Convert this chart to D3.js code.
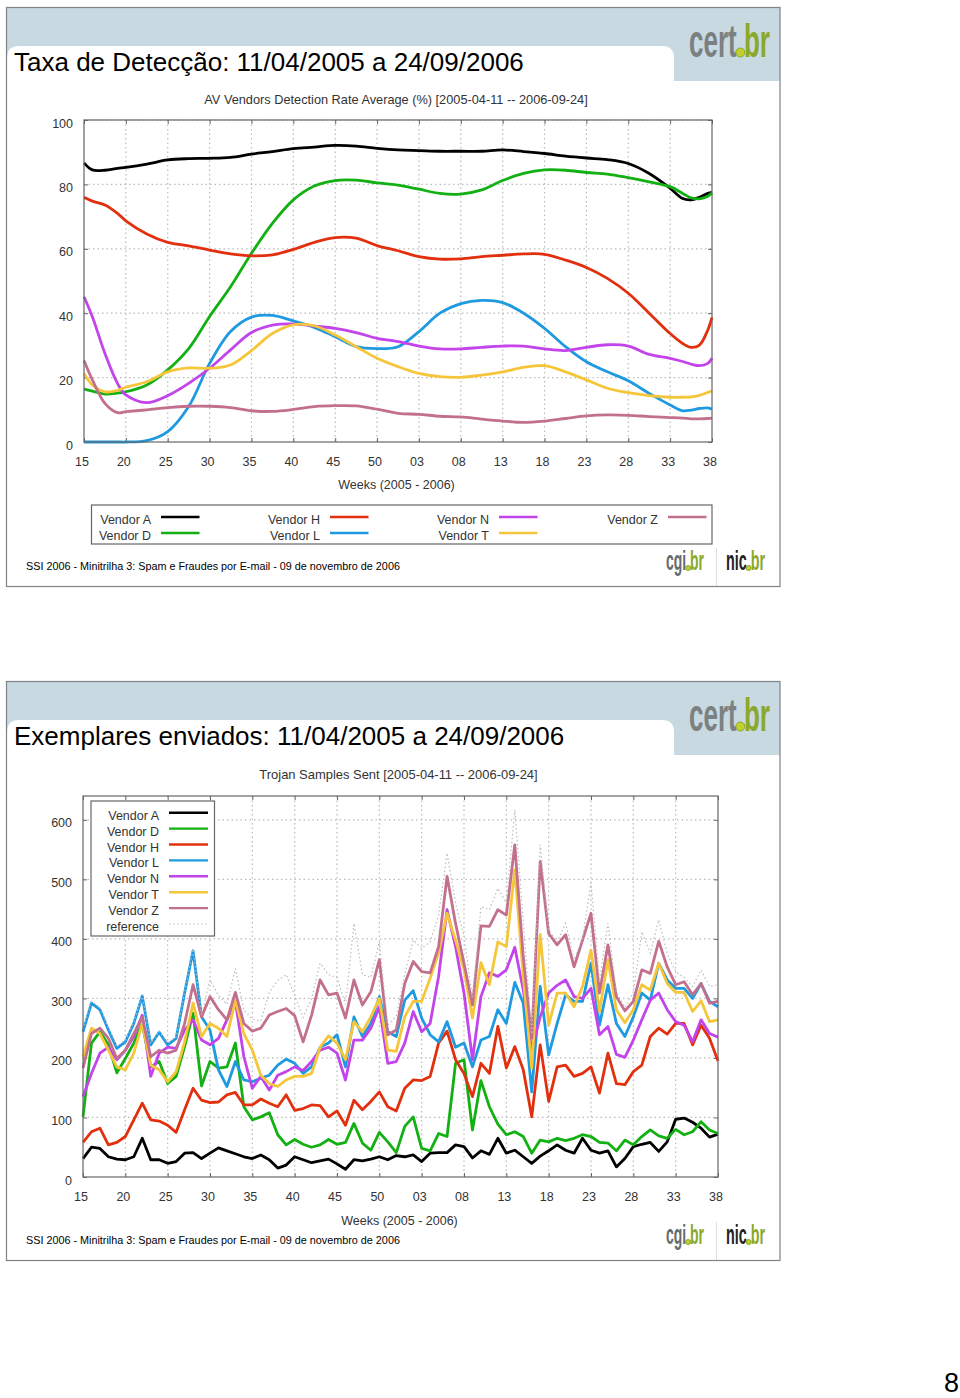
<!DOCTYPE html>
<html>
<head>
<meta charset="utf-8">
<script src="https://cdn.jsdelivr.net/npm/d3@7"></script>
<style>
  html, body { margin: 0; padding: 0; background: #fff; }
  svg { display: block; font-family: "Liberation Sans", Arial, sans-serif; }
</style>
</head>
<body>
<script>
const vendorNames = ['Vendor A', 'Vendor D', 'Vendor H', 'Vendor L', 'Vendor N', 'Vendor T', 'Vendor Z'];
const vendorColors = ['#000000', '#12b012', '#e2300f', '#1f9ae0', '#c244ea', '#f6c63a', '#c2708e'];
const weekLabels = ['15', '20', '25', '30', '35', '40', '45', '50', '03', '08', '13', '18', '23', '28', '33', '38'];

// Detection rate (%), read every couple of weeks, the curves are smooth
const rateWeeks = [0, 1, 2.5, 4, 5, 7.5, 10, 12.5, 15, 17.5, 20, 22.5, 25, 27.5, 30, 32.5, 35, 37.5, 40, 42.5, 45, 47.5, 50, 52.5, 55, 57.5, 60, 62.5, 65, 67.5, 70, 71.5, 72.5, 73.5, 74.5, 75];
const rateA = [86.7, 84.5, 84.4, 85, 85.3, 86.3, 87.6, 88, 88.1, 88.4, 89.4, 90.2, 91.1, 91.6, 92.1, 91.9, 91.2, 90.7, 90.5, 90.3, 90.3, 90.3, 90.7, 90.2, 89.6, 88.8, 88.2, 87.7, 86.5, 83.4, 78.8, 75.6, 75.2, 76, 77.2, 77.5];
const rateD = [16.4, 15.8, 14.9, 15.2, 15.6, 17.7, 22.4, 29, 39, 48.2, 58.6, 67.9, 75.2, 79.5, 81.2, 81.3, 80.5, 79.8, 78.5, 77.2, 77, 78.3, 81.2, 83.4, 84.5, 84.4, 83.7, 83.2, 82.1, 80.8, 79.3, 77.2, 75.8, 75.5, 76.3, 77.4];
const rateH = [76, 74.8, 73.6, 71, 68.7, 64.6, 62, 60.9, 59.6, 58.4, 57.8, 58.1, 59.8, 62, 63.5, 63.3, 61, 59.4, 57.6, 56.8, 56.9, 57.6, 58, 58.4, 58.3, 56.5, 54.2, 50.8, 46.2, 40, 33.7, 30.6, 29.4, 30.1, 34.8, 38.7];
const rateL = [0, 0, 0, 0, 0, 0.4, 3.2, 11, 24.4, 34.3, 38.8, 39.3, 37.6, 35.6, 32.7, 29.6, 29, 29.6, 34.3, 40, 43, 44, 43.3, 40, 35.3, 29.6, 24.9, 21.8, 19, 15.1, 11.5, 9.7, 9.9, 10.4, 10.6, 10.2];
const rateN = [45.1, 38.9, 27.5, 18.2, 14.6, 12.2, 14.4, 18.2, 22.9, 28.6, 34, 36.3, 36.7, 36, 35.3, 34, 32.2, 31.2, 29.8, 28.9, 28.9, 29.4, 29.8, 29.8, 28.9, 28.4, 29.4, 30.2, 29.8, 27.2, 26, 25, 24.2, 23.7, 24.4, 26];
const rateT = [21.3, 17.7, 15.6, 16, 17, 18.7, 21.8, 23, 22.9, 23.9, 28.4, 33.7, 36.4, 36.1, 33.2, 29.6, 26, 23.4, 21.3, 20.3, 20.1, 20.8, 21.8, 23.2, 23.7, 21.8, 19.3, 16.7, 15.3, 14.4, 13.9, 13.9, 14, 14.5, 15.4, 15.9];
const rateZ = [25.3, 19.3, 12, 9.1, 9.4, 10, 10.7, 11.1, 11.1, 10.7, 9.7, 9.5, 10.1, 11, 11.3, 11.2, 10.2, 8.9, 8.6, 8, 7.8, 7.1, 6.5, 6.1, 6.5, 7.3, 8.1, 8.4, 8.3, 7.9, 7.6, 7.4, 7.2, 7.2, 7.3, 7.4];

// Samples sent, one value per week (76 weeks)
const sentA = [31, 50, 48, 34, 30, 29, 34, 65, 29, 29, 23, 26, 40, 41, 31, 40, 49, 44, 39, 34, 31, 37, 29, 15, 20, 34, 29, 24, 27, 30, 22, 13, 29, 27, 30, 34, 29, 36, 34, 37, 26, 40, 41, 41, 54, 51, 32, 44, 38, 65, 40, 45, 34, 23, 35, 44, 54, 45, 40, 65, 45, 40, 44, 17, 31, 51, 55, 58, 43, 59, 97, 99, 92, 82, 67, 72];
const sentD = [101, 225, 244, 222, 175, 199, 225, 258, 185, 194, 157, 169, 219, 275, 153, 194, 183, 185, 225, 118, 96, 101, 108, 71, 54, 63, 55, 50, 54, 63, 55, 58, 90, 57, 45, 75, 59, 41, 85, 101, 48, 44, 73, 68, 191, 197, 79, 162, 118, 89, 71, 76, 68, 40, 62, 59, 65, 61, 65, 71, 68, 58, 57, 44, 62, 54, 68, 79, 69, 65, 80, 71, 76, 93, 79, 73];
const sentH = [58, 76, 82, 54, 58, 68, 96, 124, 96, 94, 87, 75, 113, 149, 129, 125, 126, 138, 142, 121, 121, 131, 124, 118, 138, 112, 115, 121, 120, 101, 111, 87, 129, 113, 127, 143, 118, 111, 149, 163, 162, 169, 225, 245, 197, 174, 135, 191, 174, 253, 183, 219, 180, 101, 222, 127, 185, 188, 169, 174, 185, 141, 208, 157, 155, 177, 188, 236, 250, 240, 258, 258, 222, 255, 233, 195];
const sentL = [244, 292, 281, 247, 216, 227, 258, 304, 222, 243, 222, 233, 309, 380, 269, 247, 180, 152, 194, 163, 160, 166, 171, 188, 198, 191, 174, 185, 218, 225, 239, 185, 269, 236, 258, 303, 244, 236, 297, 313, 267, 239, 227, 261, 218, 225, 185, 230, 236, 281, 258, 327, 292, 143, 320, 205, 258, 306, 295, 295, 359, 255, 323, 258, 236, 269, 309, 297, 359, 331, 317, 317, 300, 325, 295, 286];
const sentN = [135, 174, 208, 218, 197, 213, 236, 272, 169, 208, 218, 216, 247, 264, 230, 222, 233, 264, 295, 202, 149, 169, 146, 171, 177, 185, 179, 194, 213, 218, 208, 163, 230, 230, 250, 286, 191, 194, 225, 278, 244, 258, 337, 449, 387, 309, 197, 303, 343, 337, 348, 386, 314, 213, 269, 309, 322, 331, 303, 300, 317, 239, 253, 206, 201, 230, 264, 297, 309, 281, 261, 255, 227, 264, 241, 235];
const sentT = [202, 250, 241, 213, 185, 180, 208, 258, 188, 180, 160, 177, 227, 292, 236, 258, 250, 236, 297, 241, 213, 171, 157, 152, 163, 169, 169, 174, 218, 237, 225, 197, 261, 244, 269, 300, 213, 211, 269, 295, 295, 334, 376, 443, 398, 348, 267, 360, 323, 395, 387, 516, 337, 183, 407, 255, 309, 309, 286, 320, 381, 278, 365, 281, 259, 281, 323, 314, 359, 325, 310, 310, 278, 296, 261, 264];
const sentZ = [183, 241, 250, 233, 199, 213, 241, 269, 202, 213, 208, 213, 258, 323, 269, 303, 281, 264, 310, 258, 245, 250, 272, 278, 283, 271, 227, 272, 331, 306, 309, 267, 331, 289, 311, 365, 239, 247, 325, 362, 345, 343, 387, 505, 426, 359, 289, 422, 421, 449, 440, 558, 370, 233, 530, 409, 390, 407, 353, 398, 443, 309, 390, 303, 279, 295, 348, 342, 396, 353, 323, 328, 306, 325, 292, 295];
const sentRef = [248, 295, 285, 250, 220, 230, 260, 306, 225, 245, 225, 235, 310, 383, 272, 331, 305, 290, 350, 280, 265, 262, 310, 330, 340, 305, 268, 300, 359, 340, 335, 290, 426, 340, 335, 395, 255, 270, 340, 398, 384, 395, 440, 544, 460, 405, 300, 454, 449, 485, 460, 617, 430, 240, 558, 415, 395, 426, 365, 400, 494, 330, 426, 310, 285, 310, 412, 376, 432, 375, 345, 335, 320, 348, 320, 323];

const rateTicks = [0, 20, 40, 60, 80, 100];
const sentTicks = [0, 100, 200, 300, 400, 500, 600];

const w = 960, h = 1398;
const textColor = '#333';
const frameColor = '#666';
const weekIndexes = d3.range(76);

const svg = d3.select('body').append('svg').attr('width', w).attr('height', h);

function drawSlide(offset, title) {
    const g = svg.append('g').attr('transform', `translate(0, ${offset})`);

    // Header band with the white tab cut out of it
    g.append('rect').attr('x', 7).attr('y', 8).attr('width', 773).attr('height', 73).attr('fill', '#c8d9e1');
    g.append('path')
        .attr('d', 'M7,81 V58 Q7,46 19,46 H662 Q674,46 674,58 V81 Z')
        .attr('fill', '#fff');
    g.append('rect').attr('x', 6.5).attr('y', 7.5).attr('width', 773.5).attr('height', 579)
        .attr('fill', 'none').attr('stroke', '#7d8386').attr('stroke-width', 1.2);

    g.append('text').attr('x', 14).attr('y', 71).attr('font-size', 26).attr('fill', '#000').text(title);
    g.append('text').attr('x', 26).attr('y', 569.5).attr('font-size', 10.8).attr('fill', '#000')
        .text('SSI 2006 - Minitrilha 3: Spam e Fraudes por E-mail - 09 de novembro de 2006');

    // Logos
    drawLogo(g, 'cert', 689, 770, 56.5, 47, '#7b8082', 4.5);
    drawLogo(g, 'cgi', 666, 704, 570, 27, '#666b6d', 2.5);
    drawLogo(g, 'nic', 726, 765, 570, 27, '#222', 2.5);
    g.append('line').attr('x1', 716.5).attr('x2', 716.5).attr('y1', 548).attr('y2', 586)
        .attr('stroke', '#ddd');
    return g;
}

// Condensed logo word, squeezed with a scale so it fills x0..x1
function drawLogo(g, word, x0, x1, y, size, color, dot) {
    const t = g.append('text').attr('font-size', size).attr('font-weight', 'bold');
    t.append('tspan').attr('fill', color).text(word);
    t.append('tspan').attr('fill', '#c3cf2e').text('.');
    t.append('tspan').attr('fill', '#8aa82a').text('br');
    const sx = (x1 - x0) / t.node().getComputedTextLength();
    t.attr('transform', `translate(${x0}, ${y}) scale(${sx}, 1)`);
    // the dot of the logo is round
    const e = t.node().getExtentOfChar(word.length);
    g.append('circle').attr('cx', x0 + (e.x + e.width / 2) * sx).attr('cy', y - dot + 0.5).attr('r', dot)
        .attr('fill', '#c3cf2e').attr('stroke', '#8aa82a');
}

function drawPlot(g, box, yDomain, yTicks) {
    const x = d3.scaleLinear().domain([0, 75]).range([box.left, box.right]);
    const y = d3.scaleLinear().domain(yDomain).range([box.bottom, box.top]);
    const xTicks = d3.range(0, 76, 5);

    // Grid
    g.append('g').selectAll('line').data(xTicks.slice(1, -1)).join('line')
        .attr('x1', d => x(d)).attr('x2', d => x(d)).attr('y1', box.top).attr('y2', box.bottom)
        .attr('stroke', '#bbb').attr('stroke-width', 1.2).attr('stroke-dasharray', '1.5,3');
    g.append('g').selectAll('line').data(yTicks.slice(1)).join('line')
        .attr('x1', box.left).attr('x2', box.right).attr('y1', d => y(d)).attr('y2', d => y(d))
        .attr('stroke', '#bbb').attr('stroke-width', 1.2).attr('stroke-dasharray', '1.5,3');

    // Axes
    const xAxis = g.append('g').attr('transform', `translate(0, ${box.bottom})`)
        .call(d3.axisBottom(x).tickValues(xTicks).tickFormat(i => weekLabels[i / 5]).tickSize(-4).tickPadding(15));
    const yAxis = g.append('g').attr('transform', `translate(${box.left}, 0)`)
        .call(d3.axisLeft(y).tickValues(yTicks).tickSize(-4).tickPadding(11));
    g.append('g').attr('transform', `translate(0, ${box.top})`)
        .call(d3.axisTop(x).tickValues(xTicks).tickFormat('').tickSize(-4));
    g.append('g').attr('transform', `translate(${box.right}, 0)`)
        .call(d3.axisRight(y).tickValues(yTicks).tickFormat('').tickSize(-4));
    g.selectAll('.domain').remove();
    g.selectAll('.tick line').attr('stroke', frameColor);
    xAxis.selectAll('text').attr('dx', -2.5);
    yAxis.selectAll('text').attr('y', 3);
    [xAxis, yAxis].forEach(a => a.selectAll('text')
        .attr('font-family', '"Liberation Sans", Arial, sans-serif')
        .attr('font-size', 12.5).attr('fill', textColor));

    return { x, y };
}

function drawFrame(g, box) {
    g.append('rect').attr('x', box.left).attr('y', box.top)
        .attr('width', box.right - box.left).attr('height', box.bottom - box.top)
        .attr('fill', 'none').attr('stroke', frameColor).attr('stroke-width', 1.2);
}

function drawSeries(g, scales, xs, ys, color, curve) {
    const line = d3.line().x((d, i) => scales.x(xs[i])).y(d => scales.y(d)).curve(curve);
    g.append('path').datum(ys).attr('d', line)
        .attr('fill', 'none').attr('stroke', color).attr('stroke-width', 2.8).attr('stroke-linejoin', 'round');
}

function label(g, x, y, text, anchor, size) {
    g.append('text').attr('x', x).attr('y', y).attr('text-anchor', anchor || 'middle')
        .attr('font-size', size || 12.5).attr('fill', textColor).text(text);
}

// First slide
const slide1 = drawSlide(0, 'Taxa de Detecção: 11/04/2005 a 24/09/2006');
const box1 = { left: 84, right: 712, top: 120, bottom: 442 };
const scales1 = drawPlot(slide1, box1, [0, 100], rateTicks);
[rateA, rateD, rateH, rateL, rateN, rateT, rateZ].forEach((s, i) => {
    drawSeries(slide1, scales1, rateWeeks, s, vendorColors[i], d3.curveCatmullRom.alpha(0.5));
});
drawFrame(slide1, box1);
label(slide1, 396, 104, 'AV Vendors Detection Rate Average (%) [2005-04-11 -- 2006-09-24]', 'middle', 12.75);
label(slide1, 396.5, 489, 'Weeks (2005 - 2006)');

slide1.append('rect').attr('x', 91.5).attr('y', 505).attr('width', 620.5).attr('height', 39)
    .attr('fill', '#fff').attr('stroke', frameColor).attr('stroke-width', 1.2);
const legendColumns = [151, 320, 489, 658];
vendorNames.forEach((name, i) => {
    const col = legendColumns[Math.floor(i / 2)];
    const rowY = 517 + (i % 2) * 16;
    label(slide1, col, rowY + 7, name, 'end');
    slide1.append('line').attr('x1', col + 10).attr('x2', col + 48.5).attr('y1', rowY).attr('y2', rowY)
        .attr('stroke', vendorColors[i]).attr('stroke-width', 2.4);
});

// Second slide, everything sits 674px lower, the plot has its own box
const slide2 = drawSlide(674, 'Exemplares enviados: 11/04/2005 a 24/09/2006');
const box2 = { left: 83, right: 718, top: 796 - 674, bottom: 1177 - 674 };
const scales2 = drawPlot(slide2, box2, [0, 640], sentTicks);
[sentA, sentD, sentH, sentL, sentN, sentT, sentZ].forEach((s, i) => {
    drawSeries(slide2, scales2, weekIndexes, s, vendorColors[i], d3.curveLinear);
});
slide2.append('path').datum(sentRef)
    .attr('d', d3.line().x((d, i) => scales2.x(i)).y(d => scales2.y(d)))
    .attr('fill', 'none').attr('stroke', '#bbb').attr('stroke-width', 1.2).attr('stroke-dasharray', '1.5,2.5');
drawFrame(slide2, box2);
label(slide2, 398.5, 105, 'Trojan Samples Sent [2005-04-11 -- 2006-09-24]', 'middle', 12.95);
label(slide2, 399.5, 551, 'Weeks (2005 - 2006)');

slide2.append('rect').attr('x', 91).attr('y', 127).attr('width', 123.5).attr('height', 135)
    .attr('fill', '#fff').attr('stroke', frameColor).attr('stroke-width', 1.2);
vendorNames.concat(['reference']).forEach((name, i) => {
    const rowY = 138.7 + i * 15.9;
    label(slide2, 159, rowY + 7, name, 'end');
    const sample = slide2.append('line').attr('x1', 169).attr('x2', 208).attr('y1', rowY).attr('y2', rowY);
    if (i < vendorColors.length) {
        sample.attr('stroke', vendorColors[i]).attr('stroke-width', 2.4);
    } else {
        sample.attr('stroke', '#bbb').attr('stroke-dasharray', '1.5,2.5');
    }
});

// Page number
svg.append('text').attr('x', 944).attr('y', 1392).attr('font-size', 27).attr('fill', '#000').text('8');
</script>
</body>
</html>
